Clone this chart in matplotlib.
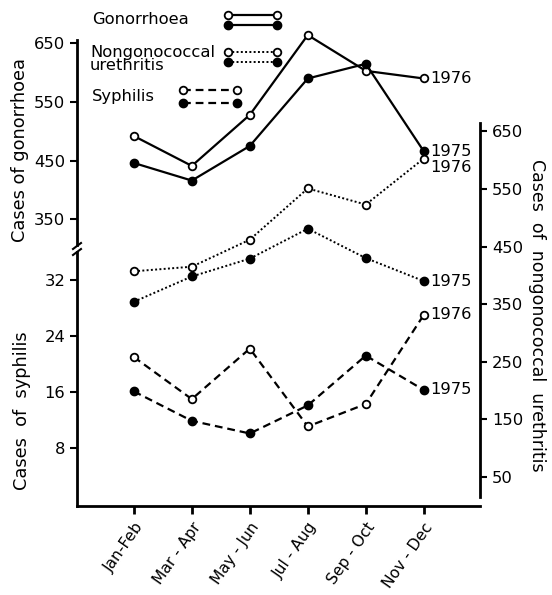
import matplotlib
matplotlib.use("Agg")
import matplotlib.pyplot as plt
import matplotlib.lines as mlines

# ----------------------------------------
# data (bi-monthly)
# ----------------------------------------
periods = ["Jan-Feb", "Mar - Apr", "May - Jun", "Jul - Aug", "Sep - Oct", "Nov - Dec"]

gon_1975 = [446, 416, 475, 590, 615, 466]
gon_1976 = [492, 441, 528, 664, 603, 590]

ngu_1975 = [354, 398, 429, 481, 430, 390]
ngu_1976 = [407, 415, 462, 551, 523, 603]

syph_1975 = [16.1, 11.9, 10.1, 14.1, 21.2, 16.3]
syph_1976 = [21.0, 15.0, 22.2, 11.1, 14.3, 27.0]

gon_ticks = [350, 450, 550, 650]
syph_ticks = [8, 16, 24, 32]
ngu_ticks = [50, 150, 250, 350, 450, 550, 650]

x = list(range(len(periods)))

plt.rcParams["font.family"] = "DejaVu Sans"
FS = 11.8
W, H = 552, 595


def px(xp, yp):
    # pixel position (from top-left) -> figure fraction
    return xp / W, 1 - yp / H


fig = plt.figure(figsize=(W / 100, H / 100), dpi=100)
rect = [77 / W, 89 / H, 403 / W, 466 / H]

ax = fig.add_axes(rect)    # syphilis (lower left scale) + x axis
axg = fig.add_axes(rect)   # gonorrhoea (upper left scale)
axn = fig.add_axes(rect)   # nongonococcal urethritis (right scale)
for a in (axg, axn):
    a.patch.set_visible(False)

for a in (ax, axg, axn):
    a.set_xlim(-0.98, 5.97)
    for s in a.spines.values():
        s.set_visible(False)
        s.set_linewidth(2)

ax.set_ylim(-0.24, 66.2)
axg.set_ylim(-138.7, 655.6)
axn.set_ylim(-0.9, 809)

# spines
ax.spines["left"].set_visible(True)
ax.spines["left"].set_bounds(-0.24, 36.0)
ax.spines["bottom"].set_visible(True)
axg.spines["left"].set_visible(True)
axg.spines["left"].set_bounds(306, 655.6)
axn.spines["right"].set_visible(True)
axn.spines["right"].set_bounds(14.7, 665)

# ticks
ax.set_xticks(x)
ax.set_xticklabels(periods, rotation=55, ha="right", rotation_mode="anchor")
ax.set_yticks(syph_ticks)
ax.tick_params(axis="x", direction="out", length=6, width=2, labelsize=FS - 0.6, pad=4)
ax.tick_params(axis="y", direction="out", length=5, width=1.5, labelsize=FS)

axg.set_xticks([])
axg.set_yticks(gon_ticks)
axg.tick_params(axis="y", direction="out", length=5, width=1.5, labelsize=FS)

axn.set_xticks([])
axn.yaxis.tick_right()
axn.set_yticks(ngu_ticks)
axn.tick_params(axis="y", direction="out", length=5, width=1.5, labelsize=FS)

# axis break marks on the left axis
for yb in (246, 252):
    x0, y0 = px(73, yb + 3)
    x1, y1 = px(81, yb - 3)
    fig.add_artist(mlines.Line2D([x0, x1], [y0, y1], color="black", lw=1.5))

# styles
open_kw = dict(marker="o", ms=5.5, mfc="white", mec="black", mew=1.3, color="black")
fill_kw = dict(marker="o", ms=6, mfc="black", mec="black", color="black")
solid = dict(lw=1.6, linestyle="-")
dotted = dict(lw=1.4, linestyle=(0, (1, 1.2)))
dashed = dict(lw=1.6, linestyle=(0, (3.5, 2.2)))

# lines
axg.plot(x, gon_1976, clip_on=False, **solid, **open_kw)
axg.plot(x, gon_1975, clip_on=False, **solid, **fill_kw)
axn.plot(x, ngu_1976, **dotted, **open_kw)
axn.plot(x, ngu_1975, **dotted, **fill_kw)
ax.plot(x, syph_1976, **dashed, **open_kw)
ax.plot(x, syph_1975, **dashed, **fill_kw)

# year labels at the end of each line
last = x[-1]
lab = dict(textcoords="offset points", va="center", ha="left", fontsize=FS)
axg.annotate("1976", (last, gon_1976[-1]), xytext=(5, 0), **lab)
axg.annotate("1975", (last, gon_1975[-1]), xytext=(5, 0), **lab)
axn.annotate("1976", (last, ngu_1976[-1]), xytext=(5, -6.5), **lab)
axn.annotate("1975", (last, ngu_1975[-1]), xytext=(5, 0), **lab)
ax.annotate("1976", (last, syph_1976[-1]), xytext=(5, 0), **lab)
ax.annotate("1975", (last, syph_1975[-1]), xytext=(5, 0), **lab)

# axis titles
TS = 12.8
fig.text(*px(20, 150), "Cases of gonorrhoea", rotation=90, ha="center", va="center", fontsize=TS)
fig.text(*px(22, 411), "Cases  of  syphilis", rotation=90, ha="center", va="center", fontsize=TS)
fig.text(*px(537, 315), "Cases  of  nongonococcal  urethritis", rotation=270,
         ha="center", va="center", fontsize=TS - 0.3)

# hand-drawn style legend
legend_rows = [
    ("Gonorrhoea", 92, 20, 228, 277, 15, 25, solid),
    ("Nongonococcal\nurethritis", 90, 59, 228, 277, 52, 62, dotted),
    ("Syphilis", 92, 97, 183, 237, 90, 103, dashed),
]
for text, tx, ty, lx0, lx1, yo, yf, style in legend_rows:
    fig.text(*px(tx, ty), text, ha="left", va="center", fontsize=FS, linespacing=0.85)
    for yy, kw in ((yo, open_kw), (yf, fill_kw)):
        a0, b0 = px(lx0, yy)
        a1, _ = px(lx1, yy)
        fig.add_artist(mlines.Line2D([a0, a1], [b0, b0], **style, **kw))

fig.savefig("out.png", dpi=100)
